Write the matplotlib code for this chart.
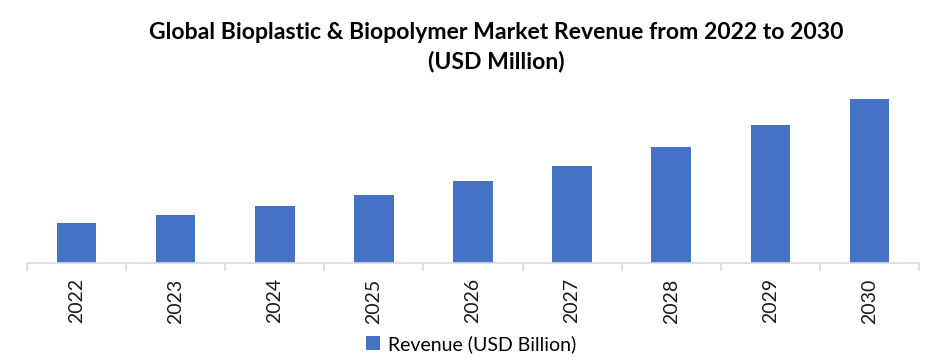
import numpy as np
import matplotlib
matplotlib.use("Agg")
import matplotlib.pyplot as plt

years = ["2022", "2023", "2024", "2025", "2026", "2027", "2028", "2029", "2030"]
revenue = [4.0, 4.8, 5.7, 6.8, 8.2, 9.7, 11.6, 13.8, 16.4]

plt.rcParams["font.family"] = ["Lato", "DejaVu Sans"]

fig = plt.figure(figsize=(9.42, 3.64), dpi=100)
ax = fig.add_axes([27 / 942, 101 / 364, 892 / 942, 180 / 364])

x = np.arange(len(years))
ax.bar(x, revenue, width=0.4, color="#4472C4", label="Revenue (USD Billion)")

ax.set_xlim(-0.5, len(years) - 0.5)
ax.set_ylim(0, 18)
ax.set_yticks([])
for side in ("top", "right", "left"):
    ax.spines[side].set_visible(False)
ax.spines["bottom"].set_color("#d9d9d9")
ax.spines["bottom"].set_linewidth(1.2)

ax.set_xticks(x)
ax.set_xticklabels(years, rotation=90, fontsize=14, color="#1a1a1a")
ax.tick_params(axis="x", which="major", length=0, pad=11)
ax.set_xticks(np.arange(len(years) + 1) - 0.5, minor=True)
ax.tick_params(axis="x", which="minor", length=6, color="#d9d9d9", width=1.2)

title_x = 496 / 942
fig.text(title_x, 0.912, "Global Bioplastic & Biopolymer Market Revenue from 2022 to 2030",
         ha="center", va="center", fontsize=16.6, fontweight="bold")
fig.text(title_x, 0.832, "(USD Million)", ha="center", va="center", fontsize=16.6, fontweight="bold")

fig.legend(loc="center", bbox_to_anchor=(0.5, 0.055), frameon=False, fontsize=14,
           handlelength=0.75, handleheight=0.75, handletextpad=0.4)

fig.savefig("out.png", dpi=100)
